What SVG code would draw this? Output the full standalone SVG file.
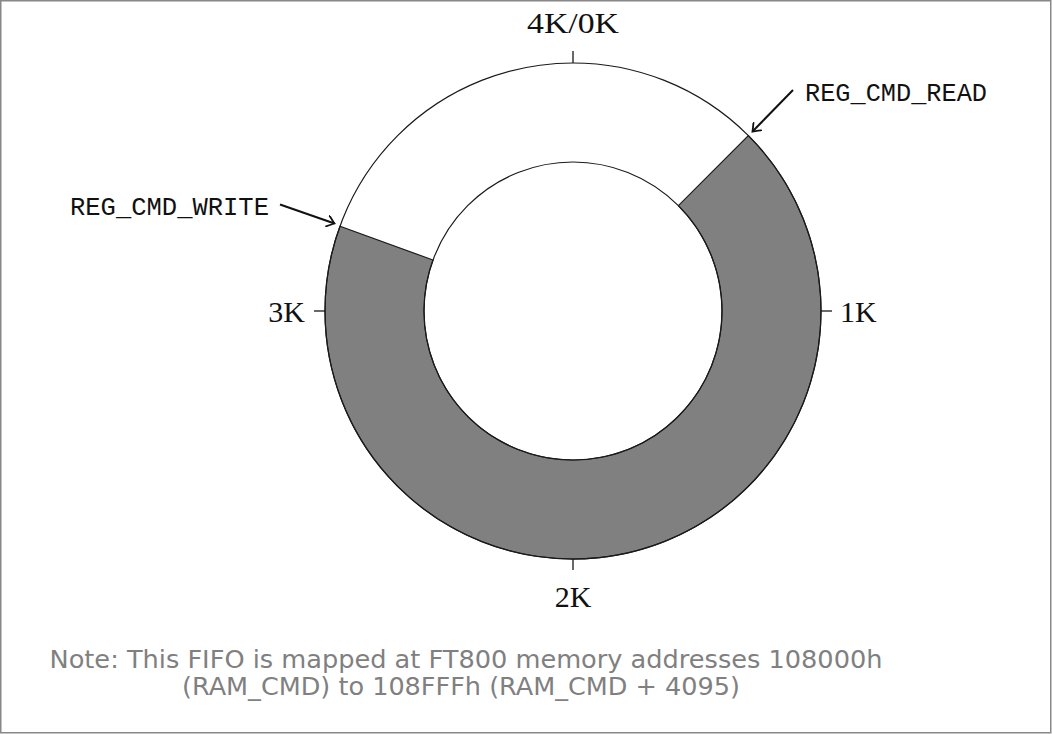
<svg xmlns="http://www.w3.org/2000/svg" width="1052" height="734" viewBox="0 0 1052 734">
<style>
.ring{stroke:#1a1a1a;stroke-width:1.2;}
.tick{stroke:#1a1a1a;stroke-width:1.3;}
.lbl{font-family:"Liberation Serif","DejaVu Serif",serif;font-size:30px;fill:#111;}
.reg{font-family:"Liberation Mono","DejaVu Sans Mono",monospace;font-size:25px;fill:#111;}
.note{font-family:"DejaVu Sans","Liberation Sans",sans-serif;font-size:24px;fill:#808080;}
.arr{stroke:#111;stroke-width:2;fill:none;marker-end:url(#to);}
</style>
<defs>
<marker id="to" viewBox="-8 -6 10 12" refX="0" refY="0" markerWidth="10" markerHeight="12" markerUnits="userSpaceOnUse" orient="auto">
<path d="M -7 -5.5 Q -1.5 -1 0 0 Q -1.5 1 -7 5.5" fill="none" stroke="#111" stroke-width="1.8" stroke-linecap="round"/>
</marker>
</defs>
<rect x="0.75" y="0.75" width="1050" height="732" fill="#fff" stroke="#888" stroke-width="1.5"/>
<g id="ring">
<path class="ring" fill="#808080" d="M 748.36 135.64 A 248 248 0 1 1 339.96 226.18 L 432.99 260.04 A 149 149 0 1 0 678.36 205.64 Z"/>
<circle class="ring" cx="573" cy="311" r="248" fill="none"/>
<circle class="ring" cx="573" cy="311" r="149" fill="none"/>
</g>
<g id="ticks">
<line class="tick" x1="573" y1="51" x2="573" y2="63"/>
<line class="tick" x1="821" y1="311" x2="832" y2="311"/>
<line class="tick" x1="314" y1="311" x2="325" y2="311"/>
<line class="tick" x1="573" y1="559" x2="573" y2="570"/>
</g>
<g id="label-4k0k"><text class="lbl" x="573" y="33" text-anchor="middle" textLength="92" lengthAdjust="spacingAndGlyphs">4K/0K</text></g>
<g id="label-1k"><text class="lbl" x="840" y="322">1K</text></g>
<g id="label-2k"><text class="lbl" x="573" y="607" text-anchor="middle">2K</text></g>
<g id="label-3k"><text class="lbl" x="305" y="322" text-anchor="end">3K</text></g>
<g id="reg-cmd-read"><text class="reg" x="805" y="101" textLength="182" lengthAdjust="spacingAndGlyphs">REG_CMD_READ</text></g>
<g id="reg-cmd-write"><text class="reg" x="70" y="215" textLength="199" lengthAdjust="spacingAndGlyphs">REG_CMD_WRITE</text></g>
<g id="connectors">
<line class="arr" x1="793" y1="90" x2="752.5" y2="131.5"/>
<line class="arr" x1="280" y1="204.5" x2="334.5" y2="223.5"/>
</g>
<g id="note">
<text class="note" x="466" y="668" text-anchor="middle" textLength="833" lengthAdjust="spacingAndGlyphs">Note: This FIFO is mapped at FT800 memory addresses 108000h</text>
<text class="note" x="461" y="695" text-anchor="middle" textLength="558" lengthAdjust="spacingAndGlyphs">(RAM_CMD) to 108FFFh (RAM_CMD + 4095)</text>
</g>
</svg>
